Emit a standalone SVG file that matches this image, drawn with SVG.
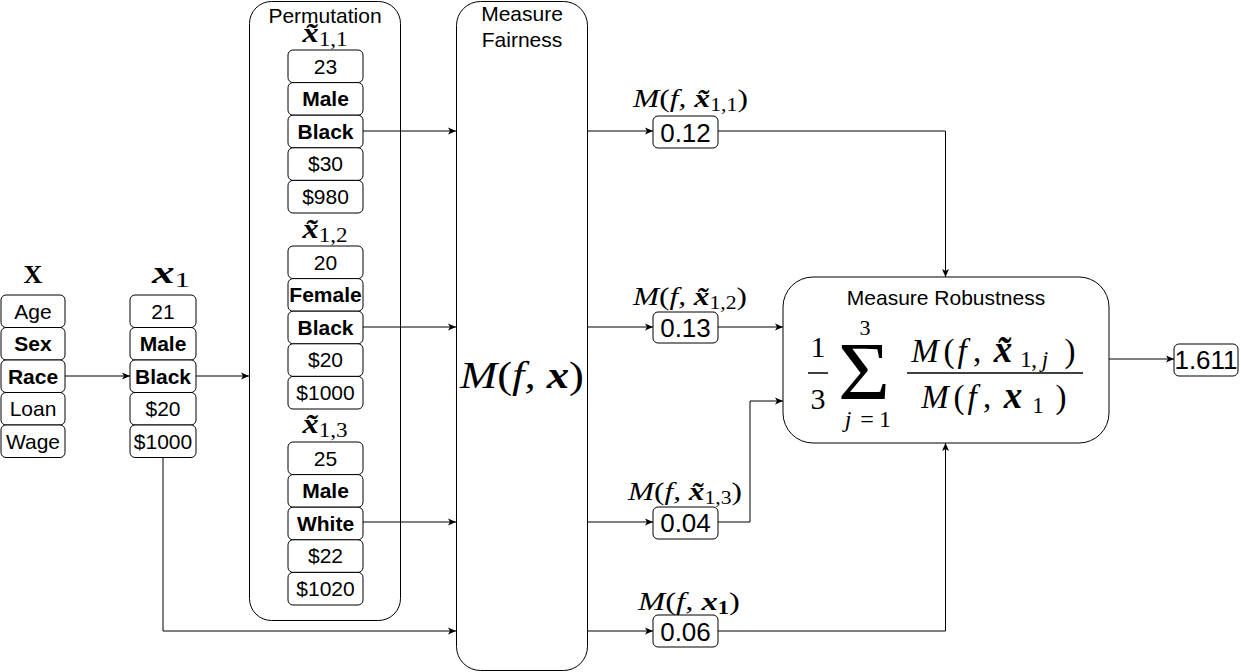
<svg xmlns="http://www.w3.org/2000/svg" width="1241" height="672" viewBox="0 0 1241 672">
<defs>
<style>
.b{fill:#fff;stroke:#000;stroke-width:1}
.t{font-family:"Liberation Sans",Arial,sans-serif;font-size:21px;text-anchor:middle;fill:#000}
.tb{font-weight:bold}
.v{font-family:"Liberation Sans",Arial,sans-serif;font-size:26px;text-anchor:middle;fill:#000}
.m{font-family:"Liberation Serif","Times New Roman",serif;font-style:italic;fill:#000;text-anchor:middle}
.bx{font-weight:bold;font-style:italic}
.up{font-style:normal}
.c{fill:none;stroke:#000;stroke-width:1}
</style>
<marker id="ah" markerWidth="10" markerHeight="10" refX="8" refY="4" orient="auto" markerUnits="userSpaceOnUse"><path d="M0,0.5 L8,4 L0,7.5 L2,4 Z" fill="#000"/></marker>
</defs>
<rect width="1241" height="672" fill="#fff"/>

<g id="X">
<text x="33" y="283" font-family="Liberation Serif,serif" font-weight="bold" font-size="26" text-anchor="middle">X</text>
<rect class="b" x="1" y="295" width="64" height="32.5" rx="5"/><text class="t" x="33" y="318.5">Age</text>
<rect class="b" x="1" y="327.5" width="64" height="32.5" rx="5"/><text class="t tb" x="33" y="351">Sex</text>
<rect class="b" x="1" y="360" width="64" height="32.5" rx="5"/><text class="t tb" x="33" y="383.5">Race</text>
<rect class="b" x="1" y="392.5" width="64" height="32.5" rx="5"/><text class="t" x="33" y="416">Loan</text>
<rect class="b" x="1" y="425" width="64" height="32.5" rx="5"/><text class="t" x="33" y="448.5">Wage</text>
</g>

<g id="x1">
<text class="m" x="171" y="283" font-size="32" textLength="38" lengthAdjust="spacingAndGlyphs"><tspan class="bx">x</tspan><tspan class="up" font-size="22" dy="4">1</tspan></text>
<rect class="b" x="130" y="295" width="66" height="32.5" rx="5"/><text class="t" x="163" y="318.5">21</text>
<rect class="b" x="130" y="327.5" width="66" height="32.5" rx="5"/><text class="t tb" x="163" y="351">Male</text>
<rect class="b" x="130" y="360" width="66" height="32.5" rx="5"/><text class="t tb" x="163" y="383.5">Black</text>
<rect class="b" x="130" y="392.5" width="66" height="32.5" rx="5"/><text class="t" x="163" y="416">$20</text>
<rect class="b" x="130" y="425" width="66" height="32.5" rx="5"/><text class="t" x="163" y="448.5">$1000</text>
</g>

<g id="permutation">
<rect class="b" x="249.5" y="1.5" width="151" height="619" rx="22"/>
<text class="t" x="325" y="23">Permutation</text>
<text class="m" x="325" y="42" font-size="28" textLength="45" lengthAdjust="spacingAndGlyphs"><tspan class="bx">x̃</tspan><tspan class="up" font-size="20" dy="4">1,1</tspan></text>
<rect class="b" x="288" y="50" width="75" height="32.6" rx="5"/><text class="t" x="325.5" y="73.5">23</text>
<rect class="b" x="288" y="82.6" width="75" height="32.6" rx="5"/><text class="t tb" x="325.5" y="106">Male</text>
<rect class="b" x="288" y="115.2" width="75" height="32.6" rx="5"/><text class="t tb" x="325.5" y="138.5">Black</text>
<rect class="b" x="288" y="147.8" width="75" height="32.6" rx="5"/><text class="t" x="325.5" y="171">$30</text>
<rect class="b" x="288" y="180.4" width="75" height="32.6" rx="5"/><text class="t" x="325.5" y="203.5">$980</text>

<text class="m" x="325" y="238" font-size="28" textLength="45" lengthAdjust="spacingAndGlyphs"><tspan class="bx">x̃</tspan><tspan class="up" font-size="20" dy="4">1,2</tspan></text>
<rect class="b" x="288" y="246" width="75" height="32.6" rx="5"/><text class="t" x="325.5" y="269.5">20</text>
<rect class="b" x="288" y="278.6" width="75" height="32.6" rx="5"/><text class="t tb" x="325.5" y="302">Female</text>
<rect class="b" x="288" y="311.2" width="75" height="32.6" rx="5"/><text class="t tb" x="325.5" y="334.5">Black</text>
<rect class="b" x="288" y="343.8" width="75" height="32.6" rx="5"/><text class="t" x="325.5" y="367">$20</text>
<rect class="b" x="288" y="376.4" width="75" height="32.6" rx="5"/><text class="t" x="325.5" y="399.5">$1000</text>

<text class="m" x="325" y="433" font-size="28" textLength="45" lengthAdjust="spacingAndGlyphs"><tspan class="bx">x̃</tspan><tspan class="up" font-size="20" dy="4">1,3</tspan></text>
<rect class="b" x="288" y="442" width="75" height="32.6" rx="5"/><text class="t" x="325.5" y="465.5">25</text>
<rect class="b" x="288" y="474.6" width="75" height="32.6" rx="5"/><text class="t tb" x="325.5" y="498">Male</text>
<rect class="b" x="288" y="507.2" width="75" height="32.6" rx="5"/><text class="t tb" x="325.5" y="530.5">White</text>
<rect class="b" x="288" y="539.8" width="75" height="32.6" rx="5"/><text class="t" x="325.5" y="563">$22</text>
<rect class="b" x="288" y="572.4" width="75" height="32.6" rx="5"/><text class="t" x="325.5" y="595.5">$1020</text>
</g>

<g id="measure-fairness">
<rect class="b" x="456.5" y="1.5" width="131" height="669" rx="24"/>
<text class="t" x="522" y="21">Measure</text>
<text class="t" x="522" y="47">Fairness</text>
<text class="m" x="522" y="388" font-size="38" textLength="124" lengthAdjust="spacingAndGlyphs">M<tspan class="up">(</tspan>f, <tspan class="bx">x</tspan><tspan class="up">)</tspan></text>
</g>

<g id="out-11">
<text class="m" x="690.5" y="107" font-size="26" textLength="115" lengthAdjust="spacingAndGlyphs">M<tspan class="up">(</tspan>f, <tspan class="bx">x̃</tspan><tspan class="up" font-size="18" dy="4">1,1</tspan><tspan class="up" dy="-4">)</tspan></text>
<rect class="b" x="653" y="116" width="65" height="32" rx="5"/><text class="v" x="685.5" y="141.5">0.12</text>
</g>
<g id="out-12">
<text class="m" x="690" y="305" font-size="26" textLength="114" lengthAdjust="spacingAndGlyphs">M<tspan class="up">(</tspan>f, <tspan class="bx">x̃</tspan><tspan class="up" font-size="18" dy="4">1,2</tspan><tspan class="up" dy="-4">)</tspan></text>
<rect class="b" x="653" y="312" width="65" height="31" rx="5"/><text class="v" x="685.5" y="337">0.13</text>
</g>
<g id="out-13">
<text class="m" x="685" y="500" font-size="26" textLength="114" lengthAdjust="spacingAndGlyphs">M<tspan class="up">(</tspan>f, <tspan class="bx">x̃</tspan><tspan class="up" font-size="18" dy="4">1,3</tspan><tspan class="up" dy="-4">)</tspan></text>
<rect class="b" x="653" y="507" width="65" height="32" rx="5"/><text class="v" x="685.5" y="532">0.04</text>
</g>
<g id="out-1">
<text class="m" x="689" y="610" font-size="26" textLength="102" lengthAdjust="spacingAndGlyphs">M<tspan class="up">(</tspan>f, <tspan class="bx">x</tspan><tspan class="up bx" font-size="18" dy="4">1</tspan><tspan class="up" dy="-4">)</tspan></text>
<rect class="b" x="653" y="615" width="65" height="32" rx="5"/><text class="v" x="685.5" y="640.5">0.06</text>
</g>

<g id="measure-robustness">
<rect class="b" x="783" y="277" width="326" height="166" rx="30"/>
<text class="t" x="946" y="305">Measure Robustness</text>
<text class="m up" x="818" y="357" font-size="30">1</text>
<line x1="808" y1="373" x2="828" y2="373" stroke="#000" stroke-width="1.5"/>
<text class="m up" x="818" y="409" font-size="30">3</text>
<text class="m up" x="865" y="335" font-size="22">3</text>
<text class="m up" x="864" y="399" font-size="82" textLength="52" lengthAdjust="spacingAndGlyphs">Σ</text>
<text class="m" y="427" font-size="24"><tspan x="848">j</tspan><tspan class="up" x="867">=</tspan><tspan class="up" x="885">1</tspan></text>
<text class="m" y="362" font-size="33"><tspan x="925">M</tspan><tspan class="up" x="949">(</tspan><tspan x="962">f</tspan><tspan class="up" x="977">,</tspan><tspan class="bx" x="1003" font-size="37">x̃</tspan><tspan class="up" x="1026" font-size="23" dy="5">1</tspan><tspan class="up" x="1034" font-size="23">,</tspan><tspan x="1045" font-size="23">j</tspan><tspan class="up" x="1070" dy="-5">)</tspan></text>
<line x1="907" y1="373" x2="1083" y2="373" stroke="#000" stroke-width="1.5"/>
<text class="m" y="408" font-size="33"><tspan x="935">M</tspan><tspan class="up" x="959">(</tspan><tspan x="972">f</tspan><tspan class="up" x="987">,</tspan><tspan class="bx" x="1013" font-size="37">x</tspan><tspan class="up" x="1038" font-size="23" dy="5">1</tspan><tspan class="up" x="1061" dy="-5">)</tspan></text>
</g>

<g id="result">
<rect class="b" x="1174" y="344" width="64" height="32" rx="5"/><text class="v" x="1206" y="369">1.611</text>
</g>

<g id="connectors">
<path class="c" d="M65,376 H130" marker-end="url(#ah)"/>
<path class="c" d="M196,376 H249" marker-end="url(#ah)"/>
<path class="c" d="M363,131 H456" marker-end="url(#ah)"/>
<path class="c" d="M363,327 H456" marker-end="url(#ah)"/>
<path class="c" d="M363,522 H456" marker-end="url(#ah)"/>
<path class="c" d="M163,458 V631 H456" marker-end="url(#ah)"/>
<path class="c" d="M587,131 H653" marker-end="url(#ah)"/>
<path class="c" d="M587,327 H653" marker-end="url(#ah)"/>
<path class="c" d="M587,522 H653" marker-end="url(#ah)"/>
<path class="c" d="M587,631 H653" marker-end="url(#ah)"/>
<path class="c" d="M718,131 H945.5 V277" marker-end="url(#ah)"/>
<path class="c" d="M718,327 H783" marker-end="url(#ah)"/>
<path class="c" d="M718,522 H750 V401 H783" marker-end="url(#ah)"/>
<path class="c" d="M718,631 H945.5 V443" marker-end="url(#ah)"/>
<path class="c" d="M1109,359 H1174" marker-end="url(#ah)"/>
</g>
</svg>
